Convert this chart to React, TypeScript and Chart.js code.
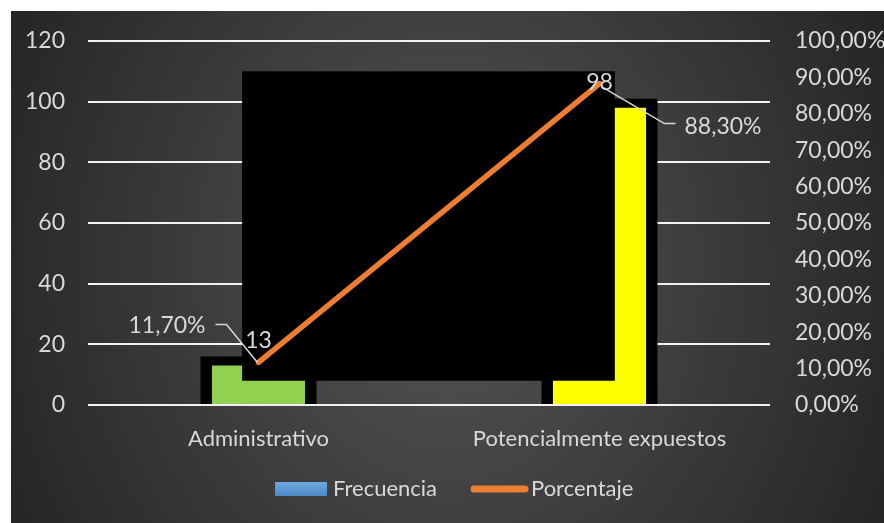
import { useEffect, useRef } from "react";
import { Chart, registerables } from "chart.js";

Chart.register(...registerables);

// Categories and series
const categories = ["Administrativo", "Potencialmente expuestos"];
const frecuencia = [13, 98];
const porcentaje = [11.7, 88.3];
const percentLabels = ["11,70%", "88,30%"];

// Black backing boxes behind each bar, and the black panel between them
const frameValues = [16, 101];
const panelRange = [8, 110]; // left-axis values (bottom, top)
const panelSpan = [-0.048, 1.045]; // category-index extent

// Axis ticks
const leftMax = 120;
const leftStep = 20;
const rightMax = 100;
const rightStep = 10;

const FONT = "Lato, 'Noto Sans', sans-serif";
const TEXT = "#D9D9D9";
const BAR_COLORS = ["#92D050", "#FFFF00"];
const ORANGE = "#ED7D31";
const NUM_SIZE = 23;
const WORD_SIZE = 22;

const fmtPct = (v: number) => v.toFixed(2).replace(".", ",") + "%";

const overlayPlugin = {
  id: "overlay",
  afterDatasetDraw(chart: any, args: any) {
    if (args.index !== 1) return;
    const { x, y } = chart.scales;
    const ctx = chart.ctx;
    const x0 = x.getPixelForValue(panelSpan[0]);
    const x1 = x.getPixelForValue(panelSpan[1]);
    const yTop = y.getPixelForValue(panelRange[1]);
    const yBot = y.getPixelForValue(panelRange[0]);
    ctx.save();
    ctx.fillStyle = "#000";
    ctx.fillRect(x0, yTop, x1 - x0, yBot - yTop);
    ctx.restore();
  },
  afterDatasetsDraw(chart: any) {
    const ctx = chart.ctx;
    const bars = chart.getDatasetMeta(1).data;
    const pts = chart.getDatasetMeta(2).data;
    ctx.save();
    ctx.font = `${NUM_SIZE}px ${FONT}`;
    ctx.fillStyle = TEXT;
    ctx.textBaseline = "middle";
    // value labels above the bars
    ctx.textAlign = "center";
    bars.forEach((b: any, i: number) => {
      ctx.fillText(String(frecuencia[i]), b.x, b.y - 25);
    });
    // percentage labels with leader lines
    ctx.strokeStyle = TEXT;
    ctx.lineWidth = 1.5;
    const p0 = pts[0];
    ctx.beginPath();
    ctx.moveTo(p0.x - 43, p0.y - 38);
    ctx.lineTo(p0.x - 32, p0.y - 38);
    ctx.lineTo(p0.x - 1, p0.y);
    ctx.stroke();
    ctx.textAlign = "right";
    ctx.fillText(percentLabels[0], p0.x - 53, p0.y - 37);

    const p1 = pts[1];
    ctx.beginPath();
    ctx.moveTo(p1.x + 2, p1.y + 3);
    ctx.lineTo(p1.x + 65, p1.y + 40);
    ctx.lineTo(p1.x + 76, p1.y + 40);
    ctx.stroke();
    ctx.textAlign = "left";
    ctx.fillText(percentLabels[1], p1.x + 85, p1.y + 43);
    ctx.restore();
  },
  afterDraw(chart: any) {
    // legend
    const ctx = chart.ctx;
    const cy = 478;
    ctx.save();
    const g = ctx.createLinearGradient(0, cy - 7, 0, cy + 7);
    g.addColorStop(0, "#6FA8DC");
    g.addColorStop(1, "#4A88C8");
    ctx.fillStyle = g;
    ctx.fillRect(264, cy - 7, 52, 14);
    ctx.font = `${WORD_SIZE}px ${FONT}`;
    ctx.fillStyle = TEXT;
    ctx.textBaseline = "middle";
    ctx.textAlign = "left";
    ctx.fillText("Frecuencia", 322, cy);
    ctx.strokeStyle = ORANGE;
    ctx.lineWidth = 7;
    ctx.lineCap = "round";
    ctx.beginPath();
    ctx.moveTo(463, cy);
    ctx.lineTo(514, cy);
    ctx.stroke();
    ctx.fillText("Porcentaje", 520, cy);
    ctx.restore();
  },
};

export default function App() {
  const ref = useRef<HTMLCanvasElement | null>(null);

  useEffect(() => {
    if (!ref.current) return;
    const chart = new Chart(ref.current, {
      type: "bar",
      data: {
        labels: categories,
        datasets: [
          {
            label: "marco",
            data: frameValues,
            backgroundColor: "#000000",
            grouped: false,
            categoryPercentage: 1,
            barPercentage: 0.34,
            yAxisID: "y",
            order: 3,
          } as any,
          {
            label: "Frecuencia",
            data: frecuencia,
            backgroundColor: BAR_COLORS,
            grouped: false,
            categoryPercentage: 1,
            barPercentage: 0.273,
            yAxisID: "y",
            order: 2,
          } as any,
          {
            type: "line",
            label: "Porcentaje",
            data: porcentaje,
            borderColor: ORANGE,
            backgroundColor: ORANGE,
            borderWidth: 5.5,
            borderCapStyle: "round",
            pointRadius: 0,
            yAxisID: "y1",
            order: 1,
          } as any,
        ],
      },
      options: {
        responsive: false,
        animation: false,
        layout: { padding: { top: 30, left: 0, right: 0, bottom: 0 } },
        plugins: { legend: { display: false }, tooltip: { enabled: false } },
        scales: {
          x: {
            grid: { display: false },
            border: { display: false },
            ticks: { color: TEXT, font: { family: FONT, size: WORD_SIZE }, padding: 13 },
            afterFit: (s: any) => {
              s.height = 118;
              s.paddingLeft = 0;
              s.paddingRight = 0;
            },
          },
          y: {
            position: "left",
            min: 0,
            max: leftMax,
            border: { display: false },
            grid: { color: "#F2F2F2", lineWidth: 2, drawTicks: false },
            ticks: {
              stepSize: leftStep,
              color: TEXT,
              font: { family: FONT, size: NUM_SIZE },
              padding: 23,
            },
            afterFit: (s: any) => {
              s.width = 77;
              s.paddingTop = 0;
              s.paddingBottom = 0;
            },
          },
          y1: {
            position: "right",
            min: 0,
            max: rightMax,
            border: { display: false },
            grid: { display: false, drawTicks: false },
            ticks: {
              stepSize: rightStep,
              color: TEXT,
              font: { family: FONT, size: NUM_SIZE },
              padding: 25,
              callback: (v: any) => fmtPct(Number(v)),
            },
            afterFit: (s: any) => {
              s.width = 114;
              s.paddingTop = 0;
              s.paddingBottom = 0;
            },
          },
        },
      },
      plugins: [overlayPlugin],
    });
    return () => chart.destroy();
  }, []);

  return (
    <div
      style={{
        position: "absolute",
        left: 11,
        top: 11,
        width: 873,
        height: 512,
        background:
          "radial-gradient(ellipse 55% 110% at 50% 50%, #555555 0%, #262626 100%)",
      }}
    >
      <canvas ref={ref} width={873} height={512} style={{ display: "block" }} />
    </div>
  );
}
